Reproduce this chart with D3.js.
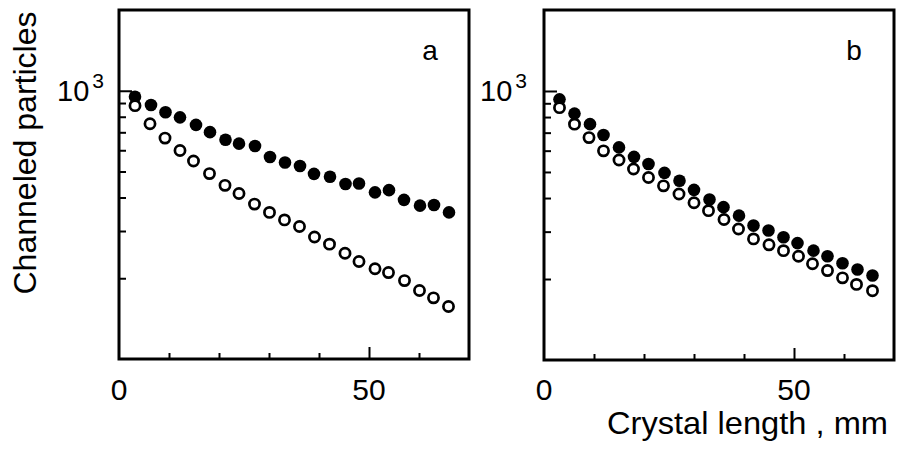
<!DOCTYPE html>
<html>
<head>
<meta charset="utf-8">
<script src="https://cdn.jsdelivr.net/npm/d3@7"></script>
<style>
  html, body { margin: 0; padding: 0; background: #fff; }
  svg { display: block; }
  text { font-family: "Liberation Sans", Arial, sans-serif; fill: #000; }
</style>
</head>
<body>
<svg id="chart" width="897" height="452"></svg>
<script>
// ---- data ----
const xDomain = [0, 70];
const yDomain = [100, 2000];
const xTickLabels = [0, 50];
const xMinorTicks = [10, 20, 30, 40, 60];
const xMajorTicks = [50];
const yMinorTicks = [200, 300, 400, 500, 600, 700, 800, 900];
const yMajorTicks = [1000];
const panelNames = ["a", "b"];

// panel a
const aFilledX = [3.2, 6.4, 9.3, 12.2, 15.4, 18.2, 21.3, 24.0, 27.2, 30.2, 33.2, 36.2, 39.0, 42.2, 45.3, 48.0, 51.2, 54.0, 57.0, 60.2, 63.0, 66.0];
const aFilledY = [950, 885, 831, 796, 746, 701, 657, 635, 622, 566, 540, 524, 490, 478, 449, 451, 418, 426, 392, 373, 375, 352];
const aOpenX = [3.2, 6.2, 9.2, 12.2, 14.9, 18.1, 21.2, 24.0, 27.1, 30.1, 33.1, 36.1, 39.1, 42.1, 45.2, 48.0, 51.2, 53.9, 57.1, 60.1, 62.9, 65.9];
const aOpenY = [880, 753, 666, 599, 547, 491, 444, 414, 378, 352, 330, 312, 285, 268, 248, 231, 217, 210, 196, 180, 169, 157];

// panel b
const bFilledX = [3.1, 6.1, 9.2, 11.9, 15.0, 18.0, 20.9, 24.1, 27.1, 30.0, 33.1, 35.9, 39.0, 41.9, 44.9, 47.9, 50.7, 53.9, 56.7, 59.7, 62.7, 65.7];
const bFilledY = [931, 824, 753, 686, 617, 569, 535, 496, 464, 429, 395, 370, 344, 316, 303, 286, 272, 255, 243, 229, 217, 206];
const bOpenX = [3.1, 6.1, 9.0, 11.9, 15.0, 17.9, 20.9, 23.9, 27.0, 30.0, 32.9, 36.0, 38.9, 41.9, 45.0, 47.9, 50.9, 53.7, 56.7, 59.7, 62.5, 65.7];
const bOpenY = [867, 753, 671, 599, 554, 513, 477, 444, 414, 384, 359, 333, 307, 282, 268, 255, 243, 228, 215, 202, 191, 181];

const yLabel = "Channeled particles";
const xLabel = "Crystal length , mm";

// ---- layout ----
const panels = [
  { name: panelNames[0], left: 119, right: 469, top: 10, bottom: 359,
    filledX: aFilledX, filledY: aFilledY, openX: aOpenX, openY: aOpenY,
    expX: 57, nameX: 430 },
  { name: panelNames[1], left: 544, right: 894, top: 10, bottom: 360,
    filledX: bFilledX, filledY: bFilledY, openX: bOpenX, openY: bOpenY,
    expX: 480, nameX: 854 }
];

const svg = d3.select("#chart");

panels.forEach(p => {
  const x = d3.scaleLinear().domain(xDomain).range([p.left, p.right]);
  const y = d3.scaleLog().domain(yDomain).range([p.bottom, p.top]);
  const g = svg.append("g");

  // inward ticks on the left axis
  const yMinor = d3.axisLeft(y).tickValues(yMinorTicks).tickSize(-7).tickFormat("");
  const yMajor = d3.axisLeft(y).tickValues(yMajorTicks).tickSize(-13).tickFormat("");
  [yMinor, yMajor].forEach(ax => {
    const a = g.append("g").attr("transform", `translate(${p.left},0)`).call(ax);
    a.select(".domain").remove();
    a.selectAll(".tick line").attr("stroke", "#000").attr("stroke-width", 2);
  });

  // inward ticks on the bottom axis
  const xMinor = d3.axisBottom(x).tickValues(xMinorTicks).tickSize(-6).tickFormat("");
  const xMajor = d3.axisBottom(x).tickValues(xMajorTicks).tickSize(-12).tickFormat("");
  [xMinor, xMajor].forEach(ax => {
    const a = g.append("g").attr("transform", `translate(0,${p.bottom})`).call(ax);
    a.select(".domain").remove();
    a.selectAll(".tick line").attr("stroke", "#000").attr("stroke-width", 2);
  });

  // x tick labels
  g.selectAll(".xlab").data(xTickLabels).enter().append("text")
    .attr("x", d => x(d)).attr("y", 400)
    .attr("text-anchor", "middle").attr("font-size", 30)
    .text(d => d);

  // 10^3 label
  const yt = y(1000);
  const lab = g.append("text").attr("x", p.expX).attr("y", yt + 10).attr("font-size", 29);
  lab.append("tspan").text("10");
  lab.append("tspan").attr("dx", 3).attr("dy", -13).attr("font-size", 21).text("3");

  // panel letter
  g.append("text").attr("x", p.nameX).attr("y", 60).attr("text-anchor", "middle")
    .attr("font-size", 28).text(p.name);

  // frame
  g.append("rect")
    .attr("x", p.left).attr("y", p.top)
    .attr("width", p.right - p.left).attr("height", p.bottom - p.top)
    .attr("fill", "none").attr("stroke", "#000").attr("stroke-width", 3);

  // filled points
  g.selectAll(".f").data(p.filledX.map((v, i) => [v, p.filledY[i]])).enter()
    .append("circle")
    .attr("cx", d => x(d[0])).attr("cy", d => y(d[1])).attr("r", 6.3)
    .attr("fill", "#000");

  // open points
  g.selectAll(".o").data(p.openX.map((v, i) => [v, p.openY[i]])).enter()
    .append("circle")
    .attr("cx", d => x(d[0])).attr("cy", d => y(d[1])).attr("r", 5.1)
    .attr("fill", "#fff").attr("stroke", "#000").attr("stroke-width", 2.7);
});

// axis titles
svg.append("text")
  .attr("transform", "translate(36,153) rotate(-90)")
  .attr("text-anchor", "middle").attr("font-size", 32)
  .attr("textLength", 283).attr("lengthAdjust", "spacingAndGlyphs")
  .text(yLabel);

svg.append("text")
  .attr("x", 607).attr("y", 434)
  .attr("font-size", 32)
  .attr("textLength", 281).attr("lengthAdjust", "spacingAndGlyphs")
  .text(xLabel);
</script>
</body>
</html>
